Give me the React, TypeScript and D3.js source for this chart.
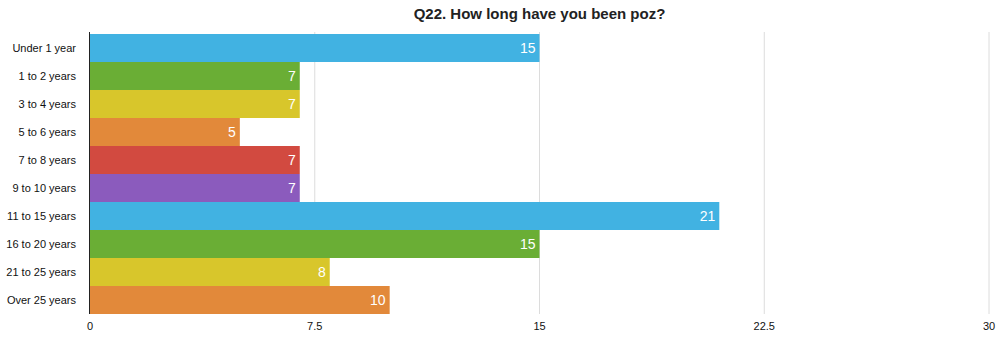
import React from "react";
import * as d3 from "d3";

const categories = [
  "Under 1 year",
  "1 to 2 years",
  "3 to 4 years",
  "5 to 6 years",
  "7 to 8 years",
  "9 to 10 years",
  "11 to 15 years",
  "16 to 20 years",
  "21 to 25 years",
  "Over 25 years",
];
const values = [15, 7, 7, 5, 7, 7, 21, 15, 8, 10];
const barColors = [
  "#41b2e2",
  "#6aae35",
  "#d8c62b",
  "#e2893a",
  "#d24a40",
  "#8b5bbd",
  "#41b2e2",
  "#6aae35",
  "#d8c62b",
  "#e2893a",
];
const ticks = [0, 7.5, 15, 22.5, 30];
const title = "Q22. How long have you been poz?";

export default function App() {
  const width = 1000;
  const height = 337;
  const left = 90;
  const right = 989;
  const top = 34;
  const bottom = 314;
  const font = "'Liberation Sans', Arial, Helvetica, sans-serif";

  const x = d3.scaleLinear().domain([0, 30]).range([left, right]);
  const y = d3
    .scaleBand<string>()
    .domain(categories)
    .range([top, bottom])
    .paddingInner(0)
    .paddingOuter(0);

  return (
    <svg
      width={width}
      height={height}
      style={{ position: "absolute", left: 0, top: 0, background: "#fff" }}
      fontFamily={font}
    >
      <text
        x={(left + right) / 2}
        y={19}
        textAnchor="middle"
        fontSize={15}
        fontWeight="bold"
        fill="#222"
      >
        {title}
      </text>
      {ticks.slice(1).map((t) => (
        <line
          key={"g" + t}
          x1={x(t)}
          x2={x(t)}
          y1={top - 2}
          y2={bottom}
          stroke="#dcdcdc"
          strokeWidth={1}
        />
      ))}
      {categories.map((c, i) => (
        <g key={c}>
          <rect
            x={x(0)}
            y={y(c)!}
            width={x(values[i]) - x(0)}
            height={y.bandwidth()}
            fill={barColors[i]}
          />
          <text
            x={x(values[i]) - 4}
            y={y(c)! + y.bandwidth() / 2 + 5}
            textAnchor="end"
            fontSize={14}
            fill="#fff"
          >
            {values[i]}
          </text>
          <text
            x={76}
            y={y(c)! + y.bandwidth() / 2 + 4}
            textAnchor="end"
            fontSize={11}
            fill="#111"
          >
            {c}
          </text>
        </g>
      ))}
      <line x1={left - 0.5} x2={left - 0.5} y1={top - 2} y2={bottom} stroke="#222" strokeWidth={1} />
      {ticks.map((t) => (
        <text
          key={"t" + t}
          x={x(t)}
          y={330}
          textAnchor="middle"
          fontSize={11}
          fill="#111"
        >
          {t}
        </text>
      ))}
    </svg>
  );
}
